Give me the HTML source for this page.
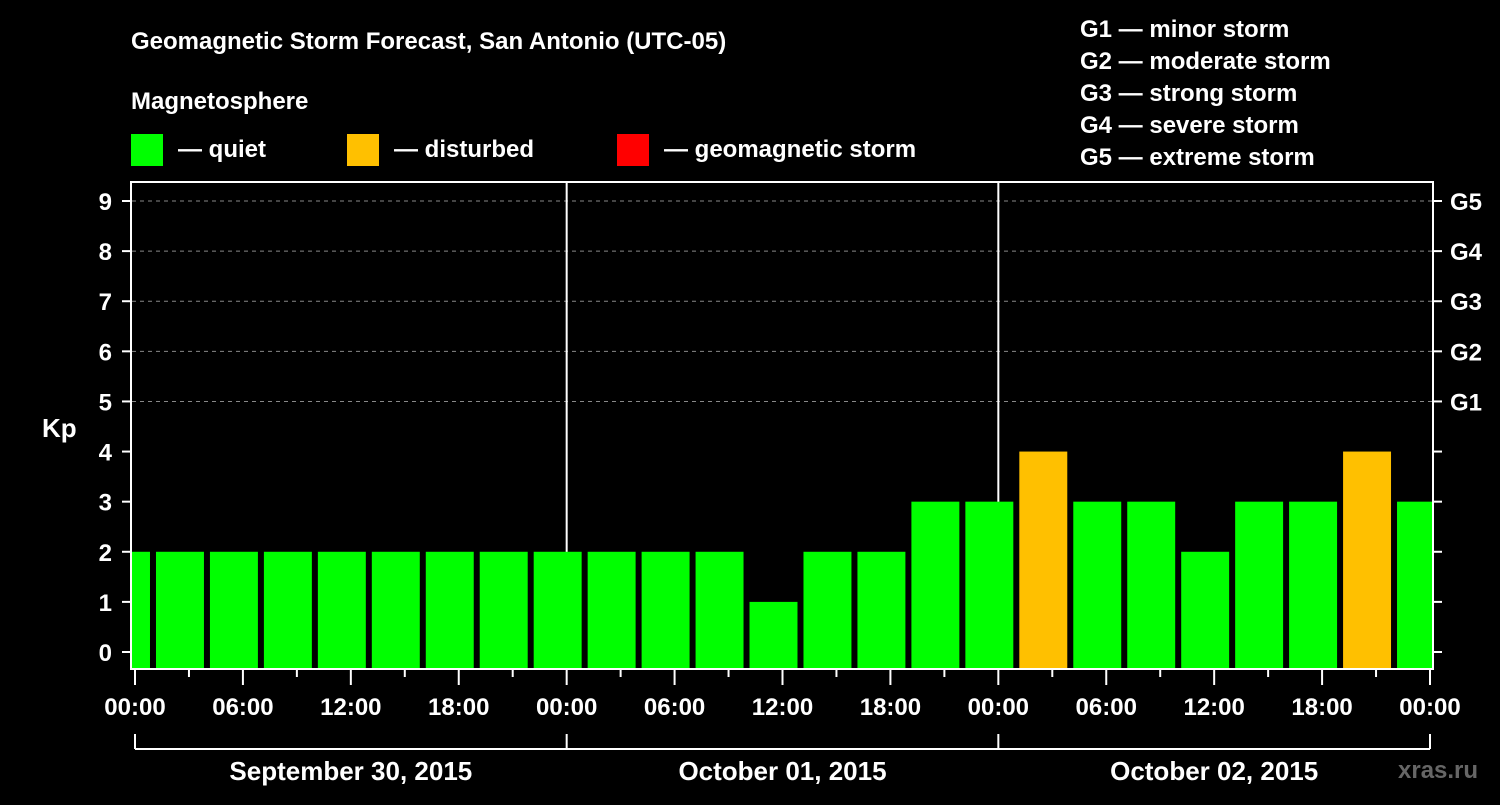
<!DOCTYPE html>
<html><head><meta charset="utf-8"><style>
body{margin:0;background:#000;width:1500px;height:800px;overflow:hidden}
svg text{font-family:"Liberation Sans",sans-serif;font-weight:bold;fill:#fff}
</style></head><body>
<svg id="c" width="1500" height="800">
<text x="131" y="49" font-size="24">Geomagnetic Storm Forecast, San Antonio (UTC-05)</text>
<text x="131" y="109" font-size="24">Magnetosphere</text>
<g><rect x="131" y="134" width="32" height="32" fill="#00ff00"/><text x="178" y="157" font-size="24">— quiet</text></g>
<g><rect x="347" y="134" width="32" height="32" fill="#ffc000"/><text x="394" y="157" font-size="24">— disturbed</text></g>
<g><rect x="617" y="134" width="32" height="32" fill="#ff0000"/><text x="664" y="157" font-size="24">— geomagnetic storm</text></g>
<g font-size="24">
<text x="1080" y="37">G1 — minor storm</text><text x="1080" y="69">G2 — moderate storm</text><text x="1080" y="101">G3 — strong storm</text><text x="1080" y="133">G4 — severe storm</text><text x="1080" y="165">G5 — extreme storm</text></g>
<text x="42" y="437" font-size="26">Kp</text>
<text x="1398" y="778" font-size="24" fill="#666" style="fill:#666">xras.ru</text>
<defs><clipPath id="pc"><rect x="132" y="183" width="1300" height="485"/></clipPath></defs>
<g id="grid"></g><g id="bars" clip-path="url(#pc)"></g><g id="axes"></g>
</svg>
<script>
const kpValues=[2,2,2,2,2,2,2,2,2,2,2,2,1,2,2,3,3,4,3,3,2,3,3,4,3];
const binStartHours=[-2,1,4,7,10,13,16,19,22,25,28,31,34,37,40,43,46,49,52,55,58,61,64,67,70];
const dayLabels=["September 30, 2015","October 01, 2015","October 02, 2015"];
const timeLabels=["00:00","06:00","12:00","18:00"];
const stormLabels=["G1","G2","G3","G4","G5"];
const NS="http://www.w3.org/2000/svg";
const X0=135,XW=1430,Y0=652,Y9=201;
const x=h=>X0+(XW-X0)*h/72;
const y=v=>Y0+(Y9-Y0)*v/9;
function mk(p,t,a){const e=document.createElementNS(NS,t);for(const k in a)e.setAttribute(k,a[k]);document.getElementById(p).appendChild(e);return e;}
for(let v=5;v<=9;v++){const l=mk('grid','line',{x1:132,x2:1432,y1:y(v),y2:y(v),stroke:'#888','stroke-dasharray':'4,4'});

}
[1,2].forEach(d=>{const l=mk('grid','line',{x1:x(d*24),x2:x(d*24),y1:182,y2:668,stroke:'#fff','stroke-width':2});

});
kpValues.forEach((v,i)=>{const h=binStartHours[i];const r=mk('bars','rect',{x:x(h)+3,y:y(v),width:x(h+3)-x(h)-6,height:668-y(v),fill:v>=5?'#ff0000':v>=4?'#ffc000':'#00ff00'});

});
const f=mk('axes','rect',{x:131,y:182,width:1302,height:487,fill:'none',stroke:'#fff','stroke-width':2});


for(let v=0;v<=9;v++){mk('axes','line',{x1:122,x2:131,y1:y(v),y2:y(v),stroke:'#fff','stroke-width':2});
mk('axes','line',{x1:1433,x2:1442,y1:y(v),y2:y(v),stroke:'#fff','stroke-width':2});
const t=mk('axes','text',{x:112,y:y(v)+9,'font-size':24,'text-anchor':'end'});t.textContent=v;


if(v>=5){const g=mk('axes','text',{x:1450,y:y(v)+9,'font-size':24});g.textContent=stormLabels[v-5];

}}
for(let h=0;h<=72;h+=3){const maj=h%6==0;mk('axes','line',{x1:x(h),x2:x(h),y1:669,y2:maj?685:677,stroke:'#fff','stroke-width':2});
if(maj){const t=mk('axes','text',{x:x(h),y:715,'font-size':24,'text-anchor':'middle'});t.textContent=timeLabels[(h/6)%4];

}}
mk('axes','line',{x1:x(0),x2:x(72),y1:749,y2:749,stroke:'#fff','stroke-width':2});
for(let d=0;d<=3;d++)mk('axes','line',{x1:x(d*24),x2:x(d*24),y1:734,y2:749,stroke:'#fff','stroke-width':2});
dayLabels.forEach((s,d)=>{const t=mk('axes','text',{x:x(d*24+12),y:780,'font-size':26,'text-anchor':'middle'});t.textContent=s;

});
</script>
</body></html>
